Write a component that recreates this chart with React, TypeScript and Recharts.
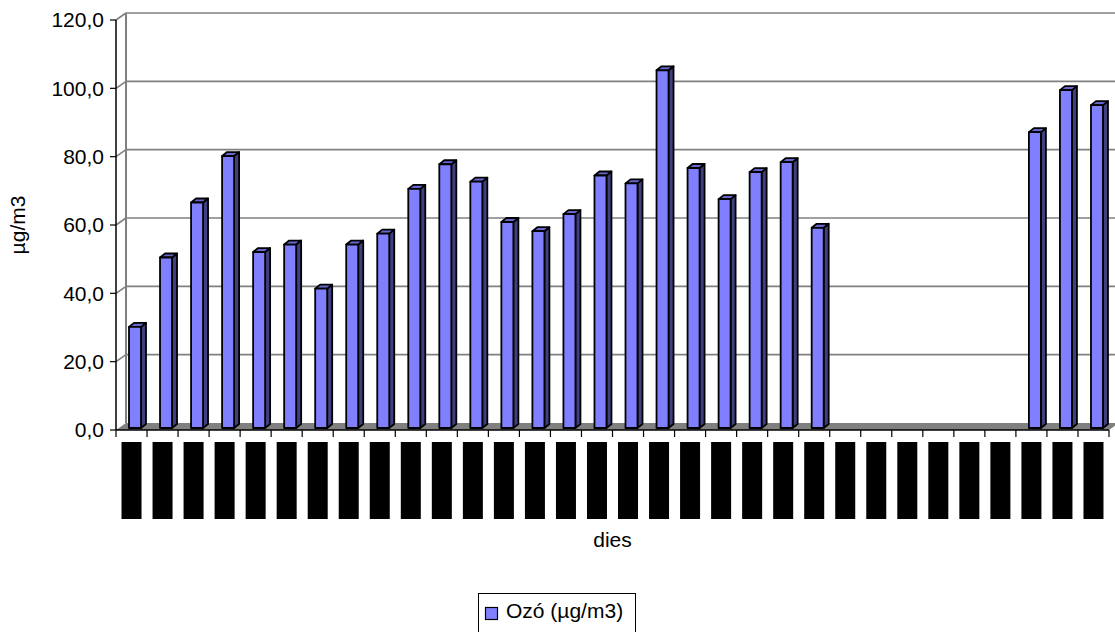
import React from 'react';
import { BarChart, Bar, XAxis, YAxis, CartesianGrid, Legend, Label } from 'recharts';

// Daily ozone means (µg/m3); null = no measurement that day
const days: string[] = [
  '01/07/2008', '02/07/2008', '03/07/2008', '04/07/2008', '05/07/2008', '06/07/2008', '07/07/2008', '08/07/2008',
  '09/07/2008', '10/07/2008', '11/07/2008', '12/07/2008', '13/07/2008', '14/07/2008', '15/07/2008', '16/07/2008',
  '17/07/2008', '18/07/2008', '19/07/2008', '20/07/2008', '21/07/2008', '22/07/2008', '23/07/2008', '24/07/2008',
  '25/07/2008', '26/07/2008', '27/07/2008', '28/07/2008', '29/07/2008', '30/07/2008', '31/07/2008', '01/08/2008',
];

const ozone: (number | null)[] = [
  29.6, 49.9, 66.0, 79.6, 51.5, 53.7, 40.8, 53.7,
  56.9, 70.0, 77.2, 72.1, 60.3, 57.6, 62.6, 73.9,
  71.6, 104.7, 76.1, 67.0, 74.9, 77.8, 58.6, null,
  null, null, null, null, null, 86.6, 98.9, 94.5,
];

const yTicks: number[] = [0, 20, 40, 60, 80, 100, 120];

const seriesName = 'Ozó (µg/m3)';
const yTitle = 'µg/m3';
const xTitle = 'dies';

const data = days.map((day, i) => ({ day, ozo: ozone[i] }));

const FONT = 'Arial, "Liberation Sans", sans-serif';
const FONT_SIZE = 21;

// oblique projection of the back wall relative to the front plane
const WALL_DX = 10;
const WALL_DY = -7;
// the columns stand a little behind the front edge of the floor
const COL_DX = 3;
const COL_DY = -2;
// depth of each column
const DEPTH_DX = 5;
const DEPTH_DY = -4;

const GRID_GREY = '#808080';

const fmt = (v: number) => v.toFixed(1).replace('.', ',');

// back wall gridlines, left-wall diagonals and the grey floor
const WallLine = (p: any) => {
  const { x1, x2, y1 } = p;
  const top = typeof p.y === 'number' ? p.y : 20;
  const bottom = typeof p.height === 'number' ? top + p.height : 430;
  const bx1 = x1 + WALL_DX;
  const bx2 = x2 + WALL_DX;
  const by = y1 + WALL_DY;
  if (Math.abs(y1 - bottom) < 0.5) {
    return (
      <g>
        <line x1={bx1} y1={top + WALL_DY} x2={bx1} y2={by} stroke={GRID_GREY} strokeWidth={2} />
        <polygon
          points={`${x1},${y1} ${x2},${y1} ${bx2},${by} ${bx1},${by}`}
          fill={GRID_GREY}
          stroke="none"
        />
      </g>
    );
  }
  return (
    <g>
      <line x1={bx1} y1={by} x2={bx2} y2={by} stroke={GRID_GREY} strokeWidth={1.6} />
      <line x1={x1} y1={y1} x2={bx1} y2={by} stroke={GRID_GREY} strokeWidth={1.6} />
    </g>
  );
};

// 3D column: side, top and front faces
const Column3D = (p: any) => {
  const { x, y, width, height, value } = p;
  const v = Array.isArray(value) ? value[1] : value;
  if (v == null || !isFinite(height) || !isFinite(y) || height <= 0) return null;
  const fx = x + COL_DX;
  const fy = y + COL_DY;
  const w = width;
  const h = height;
  const side = `${fx + w},${fy} ${fx + w + DEPTH_DX},${fy + DEPTH_DY} ${fx + w + DEPTH_DX},${fy + h + DEPTH_DY} ${fx + w},${fy + h}`;
  const topFace = `${fx},${fy} ${fx + DEPTH_DX},${fy + DEPTH_DY} ${fx + w + DEPTH_DX},${fy + DEPTH_DY} ${fx + w},${fy}`;
  return (
    <g stroke="#000" strokeWidth={1.8} strokeLinejoin="round">
      <polygon points={side} fill="#40407F" />
      <polygon points={topFace} fill="#6666CC" />
      <rect x={fx} y={fy} width={w} height={h} fill="#8080FF" />
    </g>
  );
};

// category ticks sit on the boundaries; rotated date labels in solid black boxes
const DayTick = (p: any) => {
  const { x, y, payload, index } = p;
  const half = payload && typeof payload.offset === 'number' && payload.offset > 0 ? payload.offset : 15.5;
  const axisY = y - 12;
  const last = index === days.length - 1;
  return (
    <g>
      <line x1={x - half} y1={axisY} x2={x - half} y2={axisY + 7} stroke="#000" strokeWidth={1.2} />
      {last && <line x1={x + half} y1={axisY} x2={x + half} y2={axisY + 7} stroke="#000" strokeWidth={1.2} />}
      <rect x={x - 10} y={y} width={20} height={77} fill="#000" />
      <text
        x={x}
        y={y + 4}
        transform={`rotate(-90 ${x} ${y + 4})`}
        textAnchor="end"
        dominantBaseline="central"
        fontFamily={FONT}
        fontSize={13}
        fill="#000"
      >
        {payload.value}
      </text>
    </g>
  );
};

const LegendBox = () => (
  <svg width={158} height={50} style={{ display: 'block' }}>
    <rect x={0.5} y={0.5} width={157} height={60} fill="#fff" stroke="#000" strokeWidth={1} />
    <rect x={7.5} y={14.5} width={12} height={12} fill="#8080FF" stroke="#000" strokeWidth={1.2} />
    <text x={28} y={24.5} fontFamily={FONT} fontSize={FONT_SIZE} fill="#000">
      {seriesName}
    </text>
  </svg>
);

export default function App() {
  return (
    <div style={{ position: 'absolute', left: 0, top: 0, width: 1115, height: 632, overflow: 'hidden', background: '#fff' }}>
      <BarChart
        width={1115}
        height={632}
        data={data}
        margin={{ top: 20, right: 6, bottom: 92, left: 0 }}
        barSize={12}
      >
        <CartesianGrid vertical={false} horizontal={WallLine as any} stroke={GRID_GREY} />
        <Bar dataKey="ozo" name={seriesName} shape={Column3D as any} isAnimationActive={false} />
        <XAxis
          dataKey="day"
          interval={0}
          height={110}
          tickLine={false}
          tickSize={7}
          tickMargin={5}
          axisLine={{ stroke: '#000', strokeWidth: 1.5 }}
          tick={DayTick as any}
        >
          <Label
            content={(lp: any) => {
              const vb = lp.viewBox || { x: 116, width: 993 };
              return (
                <text x={vb.x + vb.width / 2} y={547} textAnchor="middle" fontFamily={FONT} fontSize={FONT_SIZE} fill="#000">
                  {xTitle}
                </text>
              );
            }}
          />
        </XAxis>
        <YAxis
          width={116}
          domain={[0, 120]}
          ticks={yTicks}
          tickFormatter={fmt}
          tickSize={6}
          tickMargin={6}
          axisLine={{ stroke: '#000', strokeWidth: 1.5 }}
          tickLine={{ stroke: '#000', strokeWidth: 1.2 }}
          tick={{ fill: '#000', fontFamily: FONT, fontSize: FONT_SIZE }}
        >
          <Label
            content={(lp: any) => {
              const vb = lp.viewBox || { y: 20, height: 410 };
              const cy = vb.y + vb.height / 2;
              return (
                <text
                  x={24.5}
                  y={cy}
                  transform={`rotate(-90 24.5 ${cy})`}
                  textAnchor="middle"
                  fontFamily={FONT}
                  fontSize={FONT_SIZE}
                  fill="#000"
                >
                  {yTitle}
                </text>
              );
            }}
          />
        </YAxis>
        <Legend
          layout="vertical"
          align="center"
          verticalAlign="middle"
          wrapperStyle={{ left: 478, top: 593, width: 158, height: 50 }}
          content={() => <LegendBox />}
        />
      </BarChart>
    </div>
  );
}
